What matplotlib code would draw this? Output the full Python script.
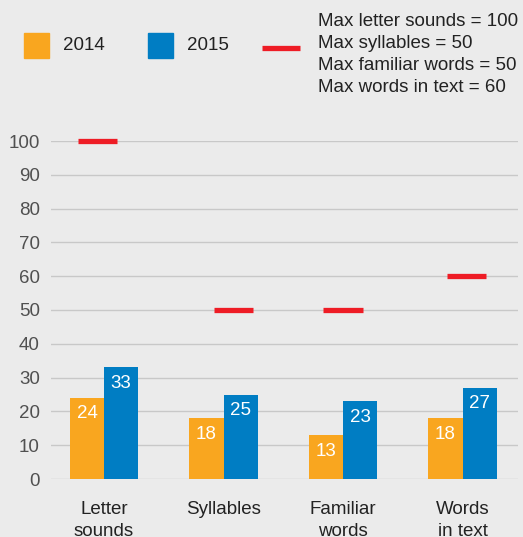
"""
Reading assessment scores, 2014 vs 2015, with maximum possible score markers.
"""

import matplotlib
matplotlib.use('Agg')
import matplotlib.pyplot as plt
import matplotlib.patches as patches
from matplotlib.lines import Line2D
import numpy as np

# ---- data ----
categories = ['Letter\nsounds', 'Syllables', 'Familiar\nwords', 'Words\nin text']
scores_2014 = [24, 18, 13, 18]
scores_2015 = [33, 25, 23, 27]
max_scores = [100, 50, 50, 60]
max_labels = ['Max letter sounds = 100', 'Max syllables = 50',
              'Max familiar words = 50', 'Max words in text = 60']
series_names = ['2014', '2015']
y_ticks = [0, 10, 20, 30, 40, 50, 60, 70, 80, 90, 100]

# ---- style ----
W, H = 523, 537
BG = '#ebebeb'
ORANGE = '#f9a61f'
BLUE = '#007dc3'
RED = '#ee1c25'
GRID = '#c8c8c8'
FONT = 'Liberation Sans'
FS = 13.5

# marker offsets from group centre (the source places them a bit unevenly)
marker_offsets = [-0.053, 0.081, 0.0, 0.031]

plt.rcParams['font.family'] = [FONT, 'DejaVu Sans']

fig = plt.figure(figsize=(W / 100, H / 100), dpi=100, facecolor=BG)


def fx(x):
    return x / W


def fy(y):
    return 1 - y / H


# axes placed in pixel terms: x 51..518, y(0)=479, y(100)=141
ax = fig.add_axes([fx(51), fy(479), fx(518) - fx(51), fy(141) - fy(479)])
ax.set_facecolor(BG)

x = np.arange(len(categories))
bw = 0.285

bars14 = ax.bar(x - bw / 2, scores_2014, bw, color=ORANGE, zorder=3)
bars15 = ax.bar(x + bw / 2, scores_2015, bw, color=BLUE, zorder=3)

for bars in (bars14, bars15):
    for b in bars:
        ax.annotate(f'{int(b.get_height())}',
                    (b.get_x() + b.get_width() / 2, b.get_height()),
                    xytext=(0, -11.5), textcoords='offset points',
                    ha='center', va='center', color='white', fontsize=FS,
                    zorder=4)

# max score markers
mw = 0.327
for xi, off, m in zip(x, marker_offsets, max_scores):
    ax.plot([xi + off - mw / 2, xi + off + mw / 2], [m, m], color=RED,
            lw=3.8, solid_capstyle='butt', zorder=5, clip_on=False)

ax.set_xlim(-0.4435, 3.464)
ax.set_ylim(0, 100)
ax.set_yticks(y_ticks)
ax.set_xticks(x)
ax.set_xticklabels(categories, fontsize=FS, color='#222222', linespacing=1.4)
ax.tick_params(axis='x', length=0, pad=16)
ax.tick_params(axis='y', length=0, pad=8, labelsize=FS, labelcolor='#505050')
ax.grid(axis='y', color=GRID, lw=1.0, zorder=0)
for s in ax.spines.values():
    s.set_visible(False)

# ---- legend drawn in pixel coordinates ----
sq = 25
for (x0, col, name) in [(24, ORANGE, series_names[0]), (148, BLUE, series_names[1])]:
    fig.add_artist(patches.Rectangle((fx(x0), fy(58)), sq / W, sq / H,
                                     transform=fig.transFigure, color=col))
    fig.text(fx(x0 + 39), fy(46), name, fontsize=FS, va='center', ha='left',
             color='#222222')

fig.add_artist(Line2D([fx(262), fx(300)], [fy(48), fy(48)], color=RED, lw=3.8,
                      solid_capstyle='butt', transform=fig.transFigure))

for i, lbl in enumerate(max_labels):
    fig.text(fx(318), fy(22 + i * 22), lbl, fontsize=FS, va='center',
             ha='left', color='#222222')

fig.savefig('out.png', dpi=100, facecolor=BG)
